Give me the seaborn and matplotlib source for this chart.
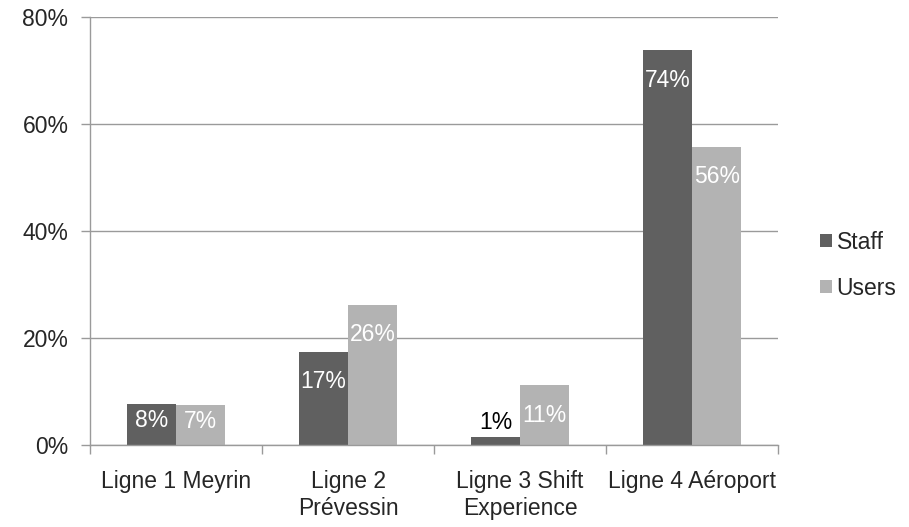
import matplotlib
matplotlib.use('Agg')
import matplotlib.pyplot as plt
import pandas as pd
import seaborn as sns

# Values (percent)
categories = ['Ligne 1 Meyrin', 'Ligne 2\nPrévessin', 'Ligne 3 Shift\nExperience', 'Ligne 4 Aéroport']
staff = [7.7, 17.4, 1.5, 73.8]
users = [7.4, 26.2, 11.2, 55.7]
staff_labels = ['8%', '17%', '1%', '74%']
users_labels = ['7%', '26%', '11%', '56%']
y_ticks = [0, 20, 40, 60, 80]

data = pd.DataFrame({
    'Ligne': categories * 2,
    'Part': staff + users,
    'Groupe': ['Staff'] * len(categories) + ['Users'] * len(categories),
})

sns.set_style('white')
plt.rcParams['font.family'] = ['Liberation Sans', 'DejaVu Sans']
fs = 16.5

fig = plt.figure(figsize=(9.09, 5.27), dpi=100)
ax = fig.add_axes([0.099, 0.1556, 0.757, 0.8121])

palette = {'Staff': '#606060', 'Users': '#b3b3b3'}
sns.barplot(data=data, x='Ligne', y='Part', hue='Groupe', palette=palette,
            width=0.57, gap=0, saturation=1, linewidth=0, ax=ax, legend=True)

ax.set_ylim(0, 80)
ax.set_xlim(-0.5, len(categories) - 0.5)
ax.set_yticks(y_ticks)
ax.set_yticklabels([f'{v}%' for v in y_ticks], fontsize=fs)
ax.yaxis.grid(True, color='#9a9a9a', linewidth=1)
ax.set_axisbelow(True)
ax.set_xlabel('')
ax.set_ylabel('')

# category labels without marks, boundary ticks as minor ticks
ax.set_xticks(range(len(categories)))
ax.set_xticklabels(categories, fontsize=fs)
ax.set_xticks([i - 0.5 for i in range(len(categories) + 1)], minor=True)
ax.tick_params(axis='x', which='major', length=0, pad=18)
ax.tick_params(axis='x', which='minor', length=6.5, width=1, color='#9a9a9a', direction='out', bottom=True)
ax.tick_params(axis='y', length=6.5, width=1, color='#9a9a9a', direction='out', left=True, pad=9)

for side in ['top', 'right']:
    ax.spines[side].set_visible(False)
for side in ['left', 'bottom']:
    ax.spines[side].set_color('#9a9a9a')
    ax.spines[side].set_linewidth(1)

# data labels
bars_staff = ax.containers[0]
bars_users = ax.containers[1]
for bars, vals, labels in [(bars_staff, staff, staff_labels), (bars_users, users, users_labels)]:
    for bar, v, lab in zip(bars, vals, labels):
        xc = bar.get_x() + bar.get_width() / 2
        if v < 3:
            ax.text(xc, v + 0.6, lab, ha='center', va='bottom', color='black', fontsize=fs)
        elif v < 10:
            ax.text(xc, v * 0.6, lab, ha='center', va='center', color='white', fontsize=fs)
        else:
            ax.text(xc, v - 5.6, lab, ha='center', va='center', color='white', fontsize=fs)

handles, labels = ax.get_legend_handles_labels()
ax.get_legend().remove()
fig.legend(handles, labels, loc='center left', bbox_to_anchor=(0.889, 0.497),
           frameon=False, fontsize=fs, borderpad=0, handlelength=0.55, handleheight=0.55,
           handletextpad=0.2, labelspacing=1.0)

fig.savefig('out.png', dpi=100)
